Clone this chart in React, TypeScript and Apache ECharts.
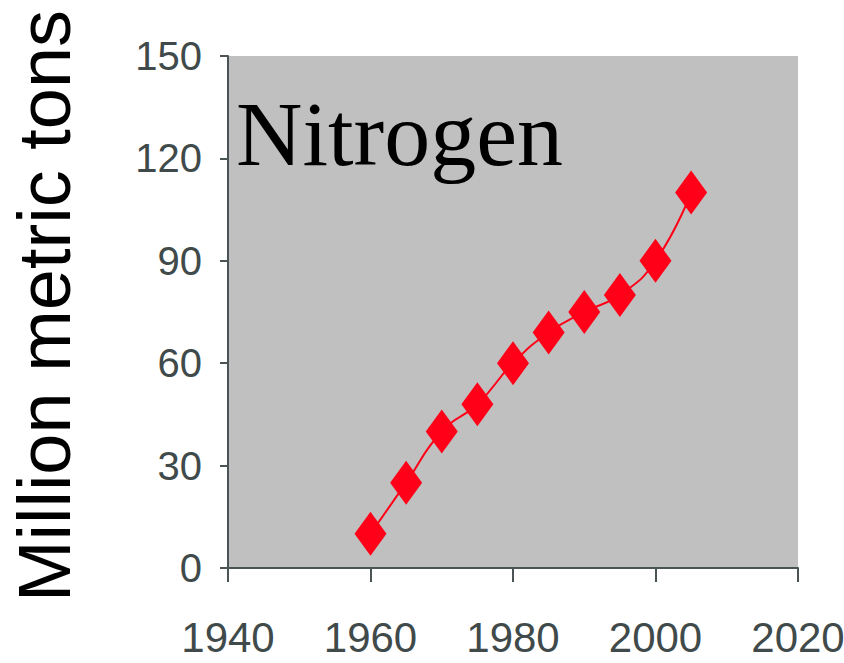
import React, { useEffect, useRef } from "react";
import * as echarts from "echarts";

const years = [1960, 1965, 1970, 1975, 1980, 1985, 1990, 1995, 2000, 2005];
const nitrogen = [10, 25, 40, 48, 60, 69, 75, 80, 90, 110];
const chartTitle = "Nitrogen";
const yAxisTitle = "Million metric tons";

export default function App() {
  const ref = useRef<HTMLDivElement>(null);
  useEffect(() => {
    if (!ref.current) return;
    const chart = echarts.init(ref.current, null, { renderer: "svg" });
    const axisColor = "#4a5454";
    const labelFont = '"Liberation Sans Narrow", "Arial Narrow", "Liberation Sans", sans-serif';
    chart.setOption({
      animation: false,
      backgroundColor: "#ffffff",
      grid: {
        left: 228,
        top: 56,
        right: 46,
        bottom: 95,
        show: true,
        backgroundColor: "#c0c0c0",
        borderWidth: 0,
        containLabel: false,
        outerBoundsMode: "none",
      },
      xAxis: {
        type: "value",
        min: 1940,
        max: 2020,
        interval: 20,
        axisLine: { show: true, onZero: false, lineStyle: { color: axisColor, width: 2 } },
        axisTick: { show: true, length: 14, lineStyle: { color: axisColor, width: 2 } },
        splitLine: { show: false },
        axisLabel: {
          margin: 48,
          color: "#404a4a",
          fontSize: 42,
          fontFamily: labelFont,
          formatter: (v: number) => String(v),
        },
      },
      yAxis: {
        type: "value",
        min: 0,
        max: 150,
        interval: 30,
        axisLine: { show: true, lineStyle: { color: axisColor, width: 2 } },
        axisTick: { show: true, length: 8, lineStyle: { color: axisColor, width: 2 } },
        splitLine: { show: false },
        axisLabel: {
          margin: 26,
          color: "#404a4a",
          fontSize: 40,
          fontFamily: labelFont,
        },
      },
      graphic: [
        {
          type: "text",
          left: 236,
          top: 88,
          style: {
            text: chartTitle,
            fontSize: 92,
            fontFamily: '"Liberation Serif", "Times New Roman", serif',
            fill: "#000000",
          },
        },
        {
          type: "text",
          x: 44,
          y: 306,
          rotation: Math.PI / 2,
          style: {
            text: yAxisTitle,
            fontSize: 74,
            fontFamily: '"Liberation Sans", Arial, sans-serif',
            fill: "#000000",
            align: "center",
            verticalAlign: "middle",
          },
        },
      ],
      series: [
        {
          type: "line",
          smooth: true,
          data: years.map((y, i) => [y, nitrogen[i]]),
          symbol: "diamond",
          symbolSize: [32, 44],
          lineStyle: { color: "#ff0018", width: 2 },
          itemStyle: { color: "#ff0018" },
        },
      ],
    });
    return () => chart.dispose();
  }, []);
  return <div ref={ref} style={{ width: 844, height: 663, position: "absolute", left: 0, top: 0 }} />;
}
